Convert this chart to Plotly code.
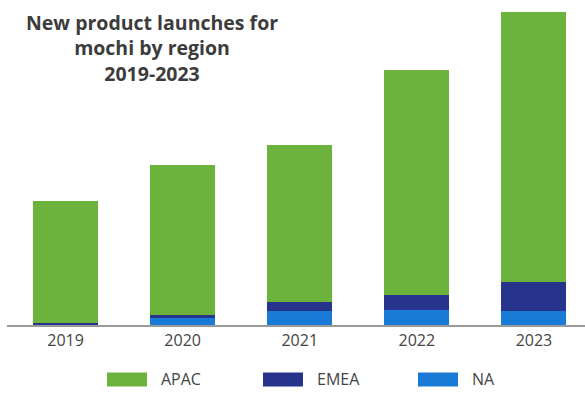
import plotly.graph_objects as go

years = ["2019", "2020", "2021", "2022", "2023"]
na = [0.5, 8, 14, 15.5, 14.5]
emea = [1.3, 1.7, 9.5, 15, 28.5]
apac = [122.7, 150.3, 156.5, 224.5, 270]

series = [("NA", na, "#1a7bd6"), ("EMEA", emea, "#27348b"), ("APAC", apac, "#6cb33e")]

W, H = 585, 393
L, R, T, B = 7, 0, 0, 67.5
pw = W - L - R
ph = H - T - B

fig = go.Figure()
for name, vals, col in series:
    fig.add_trace(go.Bar(x=years, y=vals, name=name, marker=dict(color=col, line=dict(width=0)),
                         showlegend=False))

def px_x(p):
    return (p - L) / pw

def px_y(p):
    return (H - B - p) / ph

# legend drawn manually (wide swatches)
legend_items = [("APAC", "#6cb33e", 107), ("EMEA", "#27348b", 263), ("NA", "#1a7bd6", 418)]
shapes = []
annotations = []
for name, col, x0 in legend_items:
    shapes.append(dict(type="rect", xref="paper", yref="paper",
                       x0=px_x(x0), x1=px_x(x0 + 40), y0=px_y(387), y1=px_y(373),
                       fillcolor=col, line=dict(width=0)))
    annotations.append(dict(text=name, xref="paper", yref="paper", x=px_x(x0 + 52), y=px_y(380),
                            xanchor="left", yanchor="middle", showarrow=False,
                            font=dict(family="Open Sans", size=16, color="#444444")))

annotations.append(dict(text="<b>New product launches for<br>mochi by region<br>2019-2023</b>",
                        xref="paper", yref="paper", x=px_x(152), y=px_y(7),
                        xanchor="center", yanchor="top", align="center", showarrow=False,
                        font=dict(family="Open Sans", size=19.5, color="#3c3c3c")))

fig.update_layout(
    barmode="stack",
    width=W, height=H,
    margin=dict(l=L, r=R, t=T, b=B, pad=0),
    paper_bgcolor="white", plot_bgcolor="white",
    bargap=0.445,
    xaxis=dict(range=[-0.5, 4.436], showgrid=False, showline=True, linecolor="#9a9a9a", linewidth=1.5,
               ticks="", tickfont=dict(family="Open Sans", size=16, color="#444444"), zeroline=False),
    yaxis=dict(range=[0, ph], visible=False, showgrid=False, zeroline=False),
    shapes=shapes, annotations=annotations,
)

fig.write_html("out.html")
